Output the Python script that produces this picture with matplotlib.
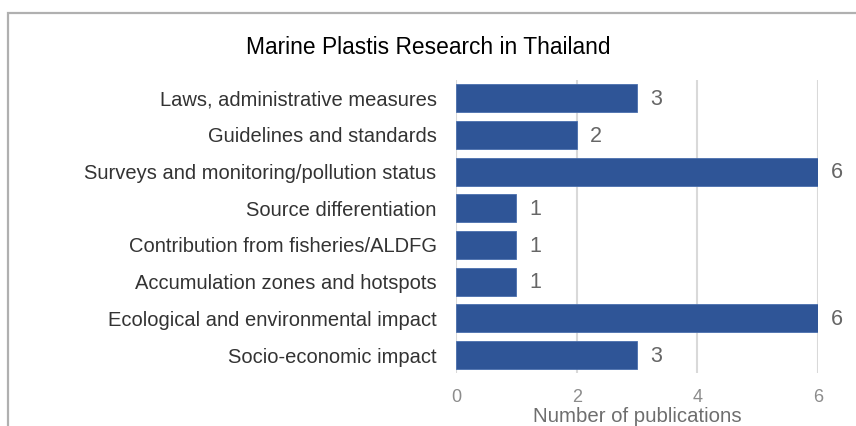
import matplotlib.pyplot as plt
from matplotlib.patches import Rectangle

categories = ['Laws, administrative measures',
              'Guidelines and standards',
              'Surveys and monitoring/pollution status',
              'Source differentiation',
              'Contribution from fisheries/ALDFG',
              'Accumulation zones and hotspots',
              'Ecological and environmental impact',
              'Socio-economic impact']
counts = [3, 2, 6, 1, 1, 1, 6, 3]
xticks = [0, 2, 4, 6]

plt.rcParams['font.family'] = ['Liberation Sans', 'DejaVu Sans']

fig = plt.figure(figsize=(8.56, 4.26), dpi=100)
ax = fig.add_axes([0.5327, 0.1235, 0.4229, 0.689])

# outer chart frame (only top and left edges visible)
fig.patches.append(Rectangle((8 / 856, -0.1), 1.2, 1 - 13 / 426 + 0.1,
                             transform=fig.transFigure, fill=False,
                             edgecolor='#b0b0b0', linewidth=1.6))

ypos = list(range(len(categories)))
ax.barh(ypos, counts, height=0.76, color='#2f5597', edgecolor='#4a6fae',
        linewidth=0.6, zorder=3)
for y, c in zip(ypos, counts):
    ax.text(c + 0.22, y + 0.03, str(c), va='center', ha='left', fontsize=15.5,
            color='#666666')

ax.set_ylim(len(categories) - 0.5, -0.5)
ax.set_xlim(0, 6)
ax.set_yticks(ypos)
ax.set_yticklabels(categories, fontsize=14.5, color='#333333')
ax.set_xticks(xticks)
ax.set_xticklabels([str(t) for t in xticks], fontsize=13, color='#8c8c8c')
ax.tick_params(axis='both', length=0)
ax.tick_params(axis='y', pad=14)
ax.tick_params(axis='x', pad=11)
ax.grid(axis='x', color='#d9d9d9', linewidth=1.5, zorder=0)
ax.set_axisbelow(True)
for s in ax.spines.values():
    s.set_visible(False)

xl = ax.set_xlabel('Number of publications', fontsize=14.7, color='#6e6e6e')
xl.set_verticalalignment('center')
ax.xaxis.set_label_coords(0.5, -43 / 293)

fig.text(0.5, 1 - 47 / 426, 'Marine Plastis Research in Thailand',
         ha='center', va='center', fontsize=16.4, color='black')

plt.savefig('out.png', dpi=100)
